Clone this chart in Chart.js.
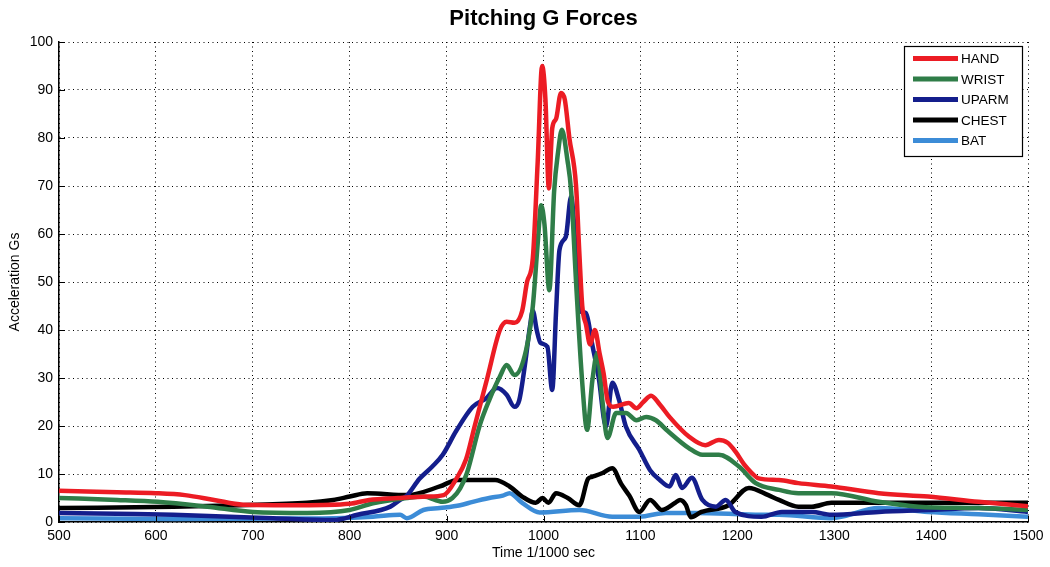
<!DOCTYPE html>
<html lang="en">
<head>
<meta charset="UTF-8">
<title>Pitching G Forces</title>
<script src="https://cdn.jsdelivr.net/npm/chart.js@4.4.1/dist/chart.umd.min.js"></script>
<style>
  html, body { margin: 0; padding: 0; background: #fff; }
  #wrap { width: 1050px; height: 567px; }
</style>
</head>
<body>
<div id="wrap"><canvas id="gChart"></canvas></div>
<script>
// values (time in 1/1000 s, acceleration in G)
const seriesNames = ['HAND', 'WRIST', 'UPARM', 'CHEST', 'BAT'];
const seriesColors = ['#ec1c24', '#2f7d48', '#141e8c', '#000000', '#3c8cd7'];

const handT = [500, 560, 600, 630, 660, 690, 750, 800, 820, 850, 880, 897, 910, 920, 929, 942, 955, 962, 970, 978, 983, 989, 994, 998.6, 1002, 1005.5, 1009, 1013, 1018, 1022, 1026.7, 1033.6, 1037, 1040, 1044, 1048, 1053, 1058, 1062, 1066.5, 1072, 1088, 1096, 1103, 1111, 1120, 1130, 1150, 1167, 1181, 1190, 1198, 1207, 1215, 1222, 1243, 1263, 1297, 1346, 1397, 1449, 1500];
const handG = [6.5, 6.2, 6, 5.6, 4.6, 3.6, 3.5, 3.8, 4.6, 5, 5.3, 5.6, 9, 13, 20, 30, 40, 41.7, 41.5, 44, 50, 55, 75, 95, 88, 69.5, 82, 84, 89.4, 88, 80, 70, 56, 45, 41, 37, 40, 35, 31, 25, 24, 24.8, 23.7, 25, 26.3, 24.5, 21.9, 17.8, 16, 17.1, 16.5, 14.7, 12, 10.2, 9.1, 8.75, 8.1, 7.4, 6, 5.3, 4.2, 3.3];

const wristT = [500, 560, 602, 653, 700, 756, 800, 824, 859, 876, 896, 906, 914, 921, 934, 944, 955, 962, 970, 982, 989, 994, 997.6, 1001, 1006, 1011, 1015, 1019, 1024.7, 1028.5, 1033.6, 1040, 1045, 1050.5, 1055.6, 1060.7, 1066, 1075, 1085, 1096, 1106, 1116, 1128, 1150, 1164, 1181, 1202, 1219, 1243, 1263, 1297, 1346, 1387, 1449, 1500];
const wristG = [5, 4.6, 4.2, 3.2, 2.1, 1.9, 2.5, 3.9, 5, 5.3, 4.2, 5, 7, 10.2, 20, 25.4, 30.3, 32.7, 30.6, 35.8, 45, 58, 66, 62, 48.3, 69, 77, 81.7, 75.4, 69, 50, 29, 19.2, 29.6, 35.2, 25.4, 17.5, 22.7, 22.7, 21.2, 21.9, 21.2, 19, 15.4, 14, 14, 11.5, 8.1, 6.7, 6, 6, 4.2, 3.2, 2.9, 2.5];

const uparmT = [500, 560, 618, 721, 783, 808, 842, 852, 859, 872, 885, 896, 910, 927, 941, 952, 962, 970, 975, 981, 986, 989, 993, 997, 1004, 1009, 1013, 1016.5, 1023, 1028.5, 1033.6, 1037, 1044, 1050, 1057, 1064.5, 1071, 1078, 1085, 1099, 1110, 1120, 1130, 1136.5, 1143, 1153, 1164, 1178, 1188, 1198, 1225, 1246, 1277, 1297, 1346, 1397, 1449, 1500];
const uparmG = [1.9, 1.7, 1.5, 0.8, 0.4, 1.5, 3.2, 4.6, 5.5, 9, 11.5, 14, 19, 24, 25.8, 27.9, 26.5, 24, 25.4, 33, 40.7, 44, 40, 37.3, 36.5, 27.5, 44, 56.7, 59.4, 67.8, 55.3, 44.2, 43.5, 37.3, 30, 19.9, 29, 25.4, 19.9, 15, 10.8, 8.75, 7.4, 9.8, 7.1, 9.2, 4.6, 3.2, 4.6, 2.1, 1.1, 2.1, 2.1, 1.5, 2.1, 2.5, 2.9, 2.1];

const chestT = [500, 618, 687, 756, 783, 800, 818, 859, 893, 911, 950, 965, 978, 992, 999, 1005, 1013, 1025, 1037, 1046, 1050, 1061, 1071, 1080, 1088.5, 1099, 1110, 1122, 1136, 1141, 1147, 1152, 1163, 1191, 1212, 1232, 1243, 1263, 1277, 1297, 1346, 1397, 1449, 1500];
const chestG = [2.9, 3.2, 3.5, 4, 4.6, 5.3, 6, 5.6, 7.4, 8.75, 8.75, 7.4, 5.3, 4, 5, 4, 6, 5, 3.5, 9, 9.4, 10.2, 11.2, 8, 5.5, 2.1, 4.6, 2.5, 4, 4.6, 3.5, 1, 2.1, 3.5, 7.1, 5.6, 4.6, 3.2, 3.2, 4, 4, 4, 4, 4];

const batT = [500, 618, 700, 783, 824, 852, 859, 876, 893, 914, 927, 944, 958, 965, 978, 996, 1037, 1071, 1099, 1126, 1157, 1225, 1243, 1297, 1346, 1397, 1449, 1500];
const batG = [0.8, 0.6, 0.7, 0.8, 1.1, 1.5, 0.8, 2.5, 2.9, 3.5, 4.2, 5, 5.5, 6, 4, 2, 2.5, 1.1, 1.1, 1.9, 1.9, 1.5, 1.5, 0.8, 2.9, 2.1, 1.6, 1.1];

const xTicks = [500, 600, 700, 800, 900, 1000, 1100, 1200, 1300, 1400, 1500];
const yTicks = [0, 10, 20, 30, 40, 50, 60, 70, 80, 90, 100];

const FONT = '"Liberation Sans", Arial, Helvetica, sans-serif';

function toPoints(ts, gs) {
    return ts.map((t, i) => ({ x: t, y: gs[i] }));
}

const allT = [handT, wristT, uparmT, chestT, batT];
const allG = [handG, wristG, uparmG, chestG, batG];

const datasets = seriesNames.map((name, i) => ({
    label: name,
    data: toPoints(allT[i], allG[i]),
    borderColor: seriesColors[i],
    backgroundColor: seriesColors[i],
    borderWidth: 4.5,
    pointRadius: 0,
    cubicInterpolationMode: 'monotone',
    fill: false
}));

// title centred on the plot, boxed legend in the top right, inward tick marks
const extras = {
    id: 'extras',
    afterDraw(chart) {
        const ctx = chart.ctx;
        const area = chart.chartArea;
        const xs = chart.scales.x, ys = chart.scales.y;

        ctx.save();
        ctx.strokeStyle = '#000';
        ctx.lineWidth = 1;
        ctx.beginPath();
        xTicks.forEach(v => {
            const px = Math.round(xs.getPixelForValue(v)) + 0.5;
            ctx.moveTo(px, area.bottom);
            ctx.lineTo(px, area.bottom - 6);
        });
        yTicks.forEach(v => {
            const py = Math.round(ys.getPixelForValue(v)) + 0.5;
            ctx.moveTo(area.left, py);
            ctx.lineTo(area.left + 6, py);
        });
        ctx.stroke();

        ctx.fillStyle = '#000';
        ctx.font = 'bold 22px ' + FONT;
        ctx.textAlign = 'center';
        ctx.textBaseline = 'middle';
        ctx.fillText('Pitching G Forces', (area.left + area.right) / 2, 19);

        // legend
        const bw = 118, bh = 110;
        const bx = area.right - 6 - bw, by = area.top + 4;
        ctx.fillStyle = '#fff';
        ctx.fillRect(bx, by, bw, bh);
        ctx.strokeStyle = '#000';
        ctx.lineWidth = 1.2;
        ctx.strokeRect(bx + 0.5, by + 0.5, bw, bh);
        ctx.font = '13.5px ' + FONT;
        ctx.textAlign = 'left';
        chart.data.datasets.forEach((ds, i) => {
            const ly = by + 12.5 + i * 20.5;
            ctx.strokeStyle = ds.borderColor;
            ctx.lineWidth = 5;
            ctx.beginPath();
            ctx.moveTo(bx + 9, ly);
            ctx.lineTo(bx + 54, ly);
            ctx.stroke();
            ctx.fillStyle = '#000';
            ctx.fillText(ds.label, bx + 57, ly + 1);
        });
        ctx.restore();
    }
};

const ctx = document.getElementById('gChart').getContext('2d');
const chart = new Chart(ctx, {
    type: 'line',
    data: { datasets: datasets },
    options: {
        responsive: true,
        maintainAspectRatio: false,
        animation: false,
        devicePixelRatio: 1,
        layout: { padding: { top: 42, right: 22, left: 0, bottom: 0 } },
        plugins: {
            legend: { display: false },
            title: { display: false },
            tooltip: { enabled: false }
        },
        scales: {
            x: {
                type: 'linear',
                min: 500,
                max: 1500,
                afterFit(scale) { scale.height = 45; },
                afterBuildTicks(scale) { scale.ticks = xTicks.map(v => ({ value: v })); },
                ticks: { color: '#000', font: { family: FONT, size: 14 }, padding: 6, maxRotation: 0,
                         callback: v => String(v) },
                grid: { color: '#000', lineWidth: 1, drawTicks: false },
                border: { display: true, color: '#000', width: 1.5, dash: [1, 3.5] },
                title: { display: true, text: 'Time 1/1000 sec', color: '#000', font: { family: FONT, size: 14 }, padding: { top: 0, bottom: 5 } }
            },
            y: {
                min: 0,
                max: 100,
                afterFit(scale) { scale.width = 59; },
                afterBuildTicks(scale) { scale.ticks = yTicks.map(v => ({ value: v })); },
                ticks: { color: '#000', font: { family: FONT, size: 14 }, padding: 6,
                         callback: v => String(v) },
                grid: { color: '#000', lineWidth: 1, drawTicks: false },
                border: { display: true, color: '#000', width: 1.5, dash: [1, 3.5] },
                title: { display: true, text: 'Acceleration Gs', color: '#000', font: { family: FONT, size: 14 }, padding: { top: 7, bottom: 0 } }
            }
        }
    },
    plugins: [extras]
});
</script>
</body>
</html>
